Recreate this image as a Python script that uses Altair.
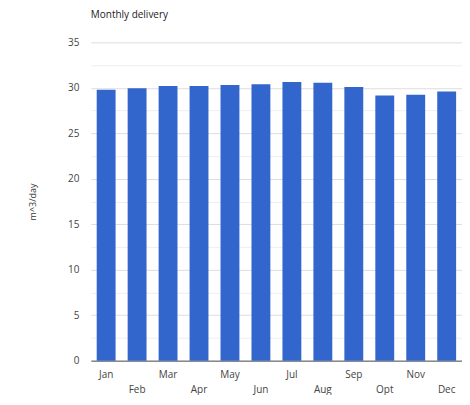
import altair as alt
import pandas as pd

months = ["Jan", "Feb", "Mar", "Apr", "May", "Jun", "Jul", "Aug", "Sep", "Opt", "Nov", "Dec"]
values = [29.8, 29.95, 30.2, 30.2, 30.3, 30.4, 30.65, 30.55, 30.1, 29.15, 29.25, 29.6]
y_ticks = [0, 2.5, 5, 7.5, 10, 12.5, 15, 17.5, 20, 22.5, 25, 27.5, 30, 32.5, 35]
second_row = ["Feb", "Apr", "Jun", "Aug", "Opt", "Dec"]

df = pd.DataFrame({"month": months, "value": values})

FONT = "Open Sans"
second_list = "[" + ",".join("'%s'" % m for m in second_row) + "]"

chart = alt.Chart(df, padding={"left": 20, "top": 2, "right": 0, "bottom": 0}).mark_bar(color="#3366cc").encode(
    x=alt.X(
        "month:N",
        sort=months,
        title=None,
        scale=alt.Scale(paddingInner=0.39, paddingOuter=0.19),
        axis=alt.Axis(
            labelAngle=0,
            ticks=False,
            domainColor="#555555",
            labelColor="#444444",
            labelFont=FONT,
            labelFontSize=10,
            labelPadding=9,
            labelLineHeight=15,
            labelExpr="indexof(" + second_list + ", datum.value) >= 0 ? ['', datum.label] : [datum.label]",
        ),
    ),
    y=alt.Y(
        "value:Q",
        title="m^3/day",
        scale=alt.Scale(domain=[0, 35], nice=False),
        axis=alt.Axis(
            values=y_ticks,
            labelExpr="datum.value % 5 == 0 ? datum.label : ''",
            ticks=False,
            domain=False,
            labelColor="#444444",
            labelFont=FONT,
            labelFontSize=10,
            labelPadding=12,
            titleFont=FONT,
            titleFontSize=9,
            titleFontWeight="normal",
            titleColor="#333333",
            titlePadding=30,
            gridColor={"condition": {"test": "datum.value % 5 == 0", "value": "#dddddd"}, "value": "#eeeeee"},
        ),
    ),
).properties(
    width=372,
    height=319,
    title=alt.TitleParams(
        "Monthly delivery",
        anchor="start",
        frame="group",
        font=FONT,
        fontSize=10,
        fontWeight="normal",
        color="#222222",
        offset=17,
    ),
).configure_view(stroke=None)

chart.save("out.html", embed_options={"renderer": "svg", "actions": False})
